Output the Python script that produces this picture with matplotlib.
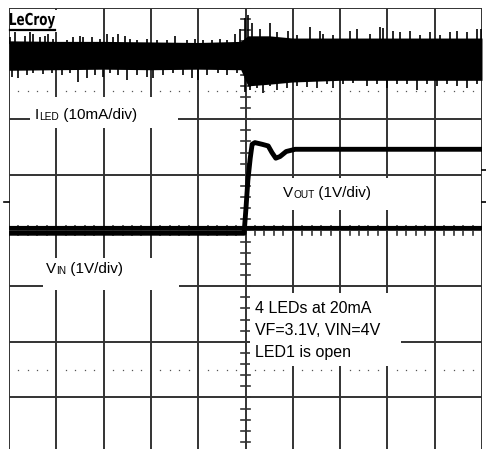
import matplotlib.pyplot as plt
import matplotlib.transforms as mtransforms
from matplotlib.patches import Rectangle, PathPatch
from matplotlib.textpath import TextPath
from matplotlib.font_manager import FontProperties
import numpy as np

W, H = 486, 449

# scope screen in divisions: time -5..5 (trigger at 0), level -4..4 (0 = centre line)
iled_core_t = [-5, -4, -3, -2, -1, -0.1, 0.05, 0.5, 1, 2, 3, 4, 5]
iled_core_hi = [3.41, 3.40, 3.40, 3.39, 3.38, 3.40, 3.50, 3.50, 3.46, 3.46, 3.46, 3.46, 3.46]
iled_core_lo = [2.88, 2.89, 2.90, 2.89, 2.90, 2.89, 2.60, 2.63, 2.67, 2.70, 2.70, 2.70, 2.70]

# noise spikes above the band
iled_up_t = [-4.98, -4.87, -4.66, -4.56, -4.49, -4.34, -4.24, -4.18, -4.07, -3.77, -3.65, -3.50,
             -3.44, -3.25, -3.08, -2.93, -2.80, -2.70, -2.55, -2.44, -2.30, -2.08, -1.87, -1.66,
             -1.49, -1.24, -1.07, -0.90, -0.71, -0.54, -0.39, -0.22, -0.12, -0.01, 0.05, 0.14,
             0.31, 0.52, 0.67, 0.90, 1.09, 1.36, 1.58, 1.64, 1.85, 2.21, 2.36, 2.63, 2.84, 2.91,
             3.12, 3.27, 3.48, 3.69, 3.90, 4.11, 4.32, 4.47, 4.68, 4.89, 4.98]
iled_up_v = [3.48, 3.57, 3.50, 3.59, 3.53, 3.48, 3.50, 3.53, 3.45, 3.43, 3.48, 3.50,
             3.48, 3.48, 3.45, 3.53, 3.48, 3.53, 3.50, 3.45, 3.43, 3.45, 3.43, 3.42,
             3.50, 3.42, 3.45, 3.43, 3.43, 3.45, 3.43, 3.53, 3.62, 3.82, 3.87, 3.73,
             3.62, 3.73, 3.57, 3.59, 3.52, 3.66, 3.59, 3.54, 3.52, 3.59, 3.62, 3.54, 3.66, 3.64,
             3.59, 3.57, 3.59, 3.52, 3.57, 3.52, 3.57, 3.59, 3.57, 3.62, 3.62]

# noise spikes below the band
iled_dn_t = [-4.94, -4.81, -4.62, -4.49, -4.28, -4.09, -3.88, -3.71, -3.54, -3.35, -3.18, -3.01,
             -2.86, -2.70, -2.51, -2.30, -2.08, -1.96, -1.74, -1.53, -1.32, -1.13, -1.00, -0.81,
             -0.58, -0.39, -0.18, -0.01, 0.10, 0.24, 0.37, 0.52, 0.67, 0.88, 1.09, 1.30, 1.51,
             1.72, 1.85, 2.06, 2.28, 2.57, 2.78, 2.99, 3.20, 3.41, 3.62, 3.83, 4.04, 4.25, 4.47,
             4.68, 4.89]
iled_dn_v = [2.76, 2.74, 2.79, 2.83, 2.81, 2.83, 2.79, 2.83, 2.67, 2.74, 2.79, 2.76,
             2.83, 2.79, 2.70, 2.79, 2.76, 2.74, 2.79, 2.84, 2.79, 2.74, 2.70, 2.79,
             2.83, 2.79, 2.83, 2.49, 2.53, 2.56, 2.47, 2.59, 2.53, 2.56, 2.60, 2.58, 2.56,
             2.63, 2.56, 2.63, 2.65, 2.60, 2.64, 2.56, 2.63, 2.64, 2.53, 2.63, 2.60, 2.64, 2.60,
             2.56, 2.63]

vout_t = [-5, -0.03, 0.01, 0.05, 0.10, 0.14, 0.20, 0.35, 0.48, 0.56, 0.64, 0.73, 0.86, 1.05, 5]
vout_v = [-0.05, -0.05, 0.40, 0.90, 1.30, 1.55, 1.58, 1.55, 1.52, 1.40, 1.30, 1.33, 1.42, 1.46, 1.46]

vin_t = [-5, 5]
vin_v = [0.05, 0.05]

notes = ["4 LEDs at 20mA", "VF=3.1V, VIN=4V", "LED1 is open"]

fig = plt.figure(figsize=(W / 100, H / 100), dpi=100)
ax = fig.add_axes([9 / W, (H - 453) / H, 473 / W, 445 / H])
ax.set_xlim(-5, 5)
ax.set_ylim(-4, 4)
ax.axis("off")
px = mtransforms.Affine2D().scale(1 / W, -1 / H).translate(0, 1) + fig.transFigure

grid_c = "#333333"
for x in range(-5, 6):
    ax.axvline(x, color=grid_c, lw=1.4, zorder=1)
for y in range(-4, 5):
    ax.axhline(y, color=grid_c, lw=1.4, zorder=1)

# dotted rows
dots = [k * 0.2 for k in range(-25, 26) if k % 5 != 0]
for y in (2.5, -2.5):
    ax.plot(dots, [y] * len(dots), ls="none", marker="s", ms=0.9, mew=0,
            color="#555555", zorder=1)

# centre axes with minor ticks
for k in range(-20, 21):
    ax.plot([-0.095, 0.095], [k * 0.2, k * 0.2], color=grid_c, lw=1.2, zorder=2)
for k in range(-25, 26):
    ax.plot([k * 0.2, k * 0.2], [-0.08, 0.08], color=grid_c, lw=1.2, zorder=2)

# ILED trace
ax.fill_between(iled_core_t, iled_core_lo, iled_core_hi, color="black", lw=0, zorder=3)
ax.vlines(iled_up_t, np.interp(iled_up_t, iled_core_t, iled_core_hi) - 0.05, iled_up_v,
          color="black", lw=1.2, zorder=3)
ax.vlines(iled_dn_t, iled_dn_v, np.interp(iled_dn_t, iled_core_t, iled_core_lo) + 0.05,
          color="black", lw=1.2, zorder=3)

# VIN and VOUT
ax.plot(vin_t, vin_v, color="black", lw=3.0, zorder=3)
ax.plot(vout_t, vout_v, color="black", lw=3.5, zorder=3, solid_joinstyle="round")

# label boxes (pixel layout)
for (x0, y0, x1, y1) in [(30, 97, 178, 128), (43, 258, 179, 290),
                         (279, 178, 388, 210), (250, 293, 401, 366), (10, 10, 57, 32)]:
    ax.add_patch(Rectangle((x0, y0), x1 - x0, y1 - y0, transform=px, facecolor="white",
                           edgecolor="none", zorder=4, clip_on=False))

font = dict(family="Liberation Sans", color="black", zorder=5)


def sub_label(x, y, main, sub, rest):
    t1 = ax.text(x, y, main, transform=px, fontsize=11, va="baseline", **font)
    t2 = ax.annotate(sub, xy=(1, 0), xycoords=t1, fontsize=7.3, va="bottom", **font)
    ax.annotate(rest, xy=(1, 0), xycoords=t2, fontsize=11, va="bottom", **font)


sub_label(35, 119, "I", "LED", " (10mA/div)")
sub_label(283, 197, "V", "OUT", " (1V/div)")
sub_label(46, 273, "V", "IN", " (1V/div)")

for i, line in enumerate(notes):
    ax.text(255, 313 + 22 * i, line, transform=px, fontsize=11.5, va="baseline", **font)

# LeCroy logo, squeezed to the narrow screen font
logo = TextPath((0, 0), "LeCroy", size=10, prop=FontProperties(family="DejaVu Sans", weight="bold"))
ext = logo.get_extents()
sx = 45 / ext.width
sy = 12 / 7.3
logo_tf = mtransforms.Affine2D().translate(-ext.x0, 0).scale(sx, -sy).translate(10, 25) + px
ax.add_patch(PathPatch(logo, transform=logo_tf, facecolor="black", edgecolor="none",
                       zorder=5, clip_on=False))
ax.plot([10, 55], [29.5, 29.5], transform=px, color="black", lw=1.6, clip_on=False, zorder=5)

# small edge markers
for (x0, x1, y) in [(4, 9, 202), (482, 486, 170), (482, 486, 202)]:
    ax.plot([x0, x1], [y, y], transform=px, color="black", lw=1.2, clip_on=False, zorder=5)

fig.savefig("out.png", dpi=100, facecolor="white")
